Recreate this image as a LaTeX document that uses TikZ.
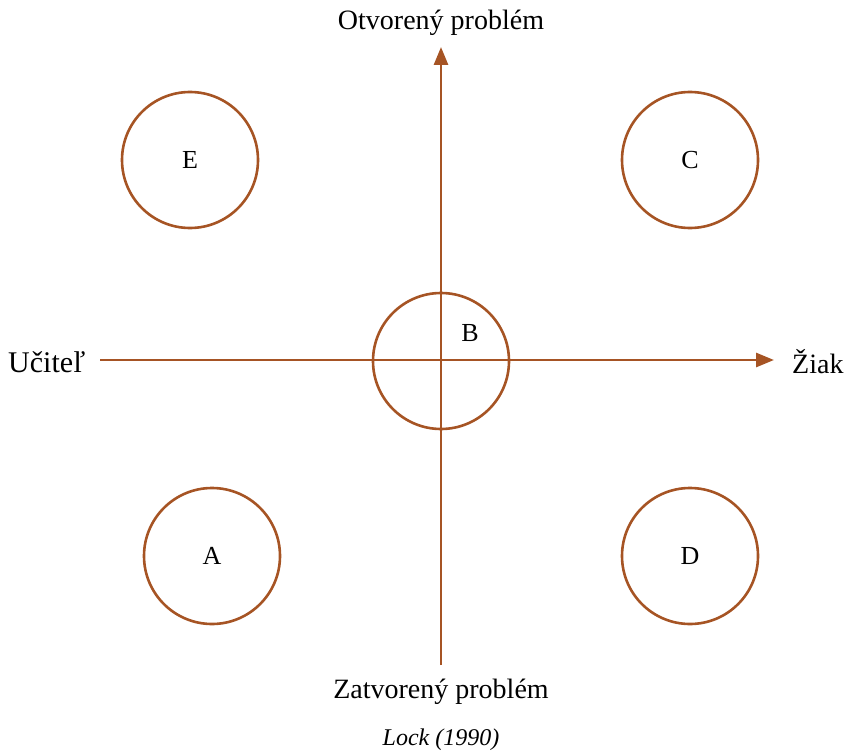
\documentclass[tikz,border=0pt]{standalone}
\usepackage{fontspec}
\setmainfont{Liberation Serif}
\usetikzlibrary{arrows.meta}
\definecolor{axc}{RGB}{166,84,36}
\tikzset{
  ax/.style={draw=axc, line width=2.8pt, -{Triangle[length=18pt,width=14pt]}},
  circ/.style={circle, draw=axc, line width=2.6pt, minimum size=136pt, inner sep=0pt, font=\fontsize{26}{30}\selectfont},
  lbl/.style={font=\fontsize{28}{32}\selectfont, inner sep=0pt},
}
\begin{document}
\begin{tikzpicture}[x=1pt,y=-1pt]
\useasboundingbox (0,0) rectangle (845,754);
\coordinate (vb) at (441,665);
\coordinate (vt) at (441,47);
\coordinate (hl) at (100,360);
\coordinate (hr) at (774,360);
\node[circ] (B) at (441,361) {};
\node[font=\fontsize{26}{30}\selectfont] (Bl) at (470,333) {B};
\draw[ax] (vb) -- (vt);
\draw[ax] (hl) -- (hr);
\node[circ] (E) at (190,160) {E};
\node[circ] (C) at (690,160) {C};
\node[circ] (A) at (212,556) {A};
\node[circ] (D) at (690,556) {D};
\node[lbl] (top) at (441,23) {Otvorený problém};
\node[lbl] (bot) at (441,692) {Zatvorený problém};
\node[lbl, anchor=west, font=\fontsize{30}{34}\selectfont] (left) at (8,362) {Učiteľ};
\node[lbl, anchor=west] (right) at (792,362) {Žiak};
\node[lbl, font=\fontsize{24}{28}\selectfont\itshape] (cap) at (441,740) {Lock (1990)};
\end{tikzpicture}
\end{document}
